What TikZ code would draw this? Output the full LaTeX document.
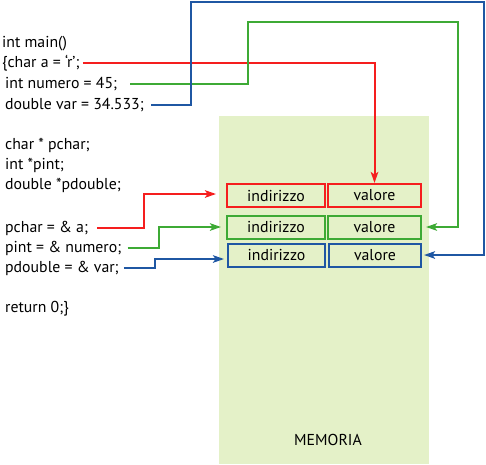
\documentclass[tikz,border=0pt]{standalone}
\usepackage{fontspec}
\setmainfont{PT Sans}
\usetikzlibrary{arrows.meta, positioning}
\definecolor{memgreen}{HTML}{E4F1C8}
\definecolor{pred}{HTML}{F51E1E}
\definecolor{pgreen}{HTML}{3DAA35}
\definecolor{pblue}{HTML}{1F57A3}
\tikzset{
    code/.style={anchor=base west, inner sep=1pt, font=\fontsize{15.8}{18}\selectfont},
    cell/.style={rectangle, draw, line width=2pt, minimum height=23pt, text centered, font=\fontsize{15.8}{18}\selectfont},
    link/.style={line width=2pt, -{Stealth[length=11pt, width=7.5pt, inset=2.5pt]}}
}

\begin{document}
\begin{tikzpicture}[x=1pt, y=-1pt]
    \useasboundingbox (0,0) rectangle (486,464);
    % Memoria
    \node (mem) [fill=memgreen, minimum width=210pt, minimum height=348pt, inner sep=0pt] at (324,290) {};
    \node (memlabel) [font=\fontsize{15.8}{18}\selectfont] at (328,440) {MEMORIA};
    % Codice
    \node (main) [code] at (1,47) {int main()};
    \node (chara) [code] at (1,67) {\{char a = `r';};
    \node (numero) [code] at (4,88) {int numero = 45;};
    \node (var) [code] at (4,109) {double var = 34.533;};
    \node (pchardecl) [code] at (4,149) {char * pchar;};
    \node (pintdecl) [code] at (4,169) {int *pint;};
    \node (pdoubledecl) [code] at (4,189) {double *pdouble;};
    \node (pchar) [code] at (4,232) {pchar = \& a;};
    \node (pint) [code] at (4,252) {pint = \& numero;};
    \node (pdouble) [code] at (4,272) {pdouble = \& var;};
    \node (ret) [code] at (4,312) {return 0;\}};
    % Celle
    \node (ind1) [cell, draw=pred, minimum width=98pt] at (276,195.5) {indirizzo};
    \node (val1) [cell, draw=pred, minimum width=93pt] at (374.5,195.5) {valore};
    \node (ind2) [cell, draw=pgreen, minimum width=98pt] at (276,227) {indirizzo};
    \node (val2) [cell, draw=pgreen, minimum width=93pt] at (374.5,227) {valore};
    \node (ind3) [cell, draw=pblue, minimum width=97pt] at (276.5,255) {indirizzo};
    \node (val3) [cell, draw=pblue, minimum width=92pt] at (375,255) {valore};
    % Punti di piega
    \coordinate (g1) at (248,22);
    \coordinate (g2) at (458,22);
    \coordinate (b1) at (191,1.5);
    \coordinate (b2) at (484,1.5);
    \coordinate (r1) at (144,194);
    \coordinate (e1) at (159,227);
    \coordinate (d1) at (155,259);
    % Frecce
    \draw [link, pred, shorten <=2pt] (chara.east) -| (val1.north);
    \draw [link, pgreen, shorten <=12pt, shorten >=4pt] (numero.east) -| (g1) -- (g2) |- (val2.east);
    \draw [link, pblue, shorten <=6pt, shorten >=2pt] (var.east) -| (b1) -- (b2) |- (val3.east);
    \draw [link, pred, shorten <=8pt, shorten >=10pt] (pchar.east) -| (r1) -- (ind1.west |- r1);
    \draw [link, pgreen, shorten <=5pt, shorten >=5pt] (pint.east) -| (e1) -- (ind2.west);
    \draw [link, pblue, shorten <=4pt, shorten >=3pt] (pdouble.east) -| (d1) -- (ind3.west |- d1);
\end{tikzpicture}
\end{document}
